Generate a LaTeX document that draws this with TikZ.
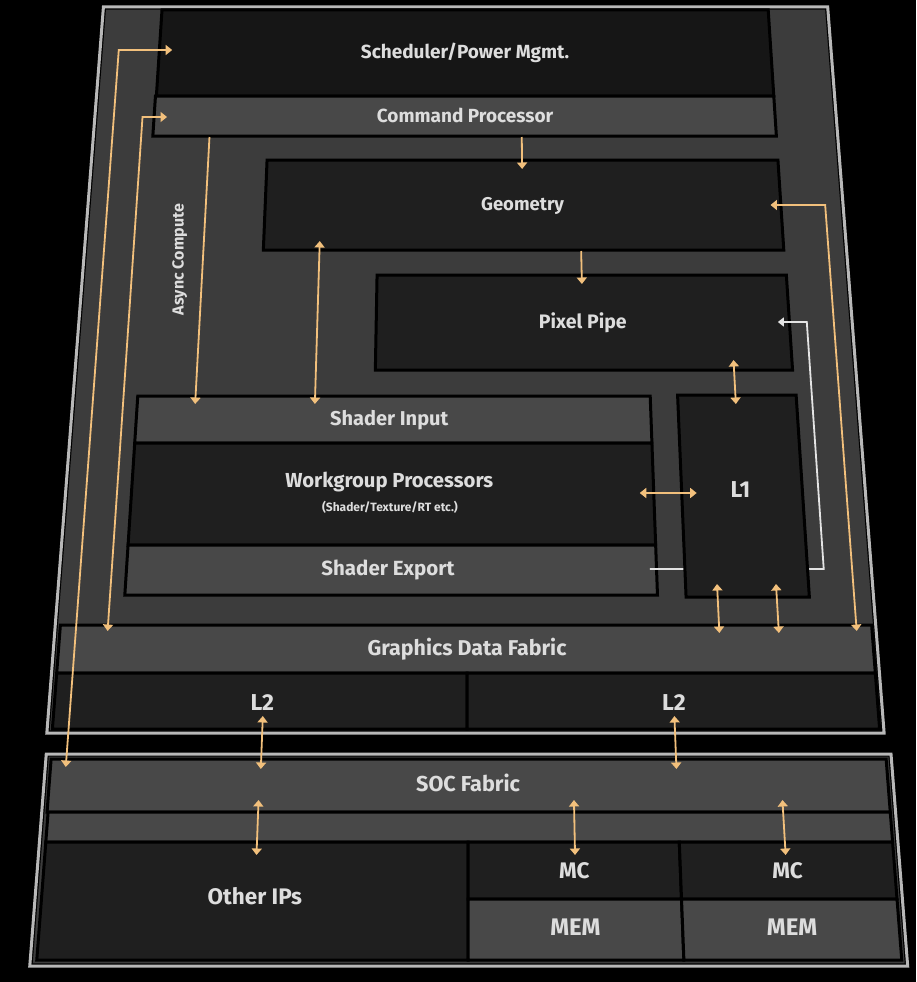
\documentclass[tikz,border=0pt]{standalone}
\usepackage{fontspec}
\setsansfont{Fira Sans}
\usetikzlibrary{arrows.meta}

\definecolor{framebg}{HTML}{3C3C3C}
\definecolor{frameline}{HTML}{B8B8B8}
\definecolor{boxdark}{HTML}{1F1F1F}
\definecolor{boxdeep}{HTML}{161616}
\definecolor{boxlight}{HTML}{484848}
\definecolor{txt}{HTML}{DDDDDD}
\definecolor{amber}{HTML}{F2C07C}
\definecolor{backpath}{HTML}{E4E4E4}

% layout coordinates are flat, the slide is tilted back
\makeatletter
\tikzdeclarecoordinatesystem{persp}{\persp@pt#1\relax}
\def\persp@pt#1,#2\relax{%
  \pgfmathsetmacro\persp@u{466+(#1-466)*((#2+4646)/5146)}%
  \pgfpointxy{\persp@u}{#2}}
\makeatother

% block: style, x1, y1, x2, y2
\newcommand\blk[5]{\filldraw[#1] (persp cs:#2,#3) -- (persp cs:#4,#3) -- (persp cs:#4,#5) -- (persp cs:#2,#5) -- cycle;}

\begin{document}
\begin{tikzpicture}[
  x=1pt, y=-1pt,
  frame/.style={fill=framebg, draw=black, line width=1.2pt, double=frameline, double distance=3pt, line join=miter},
  darkbox/.style={fill=boxdark, draw=black, line width=3pt, line join=miter},
  deepbox/.style={darkbox, fill=boxdeep},
  lightbox/.style={fill=boxlight, draw=black, line width=3pt, line join=miter},
  fs/.style={font=\sffamily\bfseries\fontsize{#1}{#1}\selectfont},
  lbl/.style={text=txt, inner sep=0pt, text height=0.69em, text depth=0pt, yshift=-3.5pt, fs=19},
  flow/.style={-{Triangle[width=10pt,length=6.5pt]}, line width=1.8pt, draw=amber},
  duplex/.style={{Triangle[width=10pt,length=6.5pt]}-{Triangle[width=10pt,length=6.5pt]}, line width=1.8pt, draw=amber},
  back/.style={-{Triangle[width=9pt,length=6pt]}, line width=1.8pt, draw=backpath},
]
\fill[black] (0,0) rectangle (916,982);
\useasboundingbox (0,0) rectangle (916,982);

% GPU frame
\filldraw[frame] (persp cs:65,7) -- (persp cs:866,7) -- (persp cs:866,733) -- (persp cs:65,733) -- cycle;
\blk{deepbox}{130}{10}{800}{96}
\blk{lightbox}{129}{96}{800}{136}
\blk{darkbox}{253}{160}{800}{250}
\blk{darkbox}{373}{275}{801}{370}
\blk{lightbox}{131}{396}{654}{443}
\blk{darkbox}{131}{443}{654}{545}
\blk{lightbox}{131}{545}{654}{595}
\blk{lightbox}{70}{625}{862}{673}
\blk{darkbox}{70}{673}{467}{729}
\blk{darkbox}{467}{673}{862}{729}

% SOC frame
\filldraw[frame] (persp cs:66,754) -- (persp cs:871,754) -- (persp cs:871,966) -- (persp cs:66,966) -- cycle;
\blk{lightbox}{71}{759}{866}{812}
\blk{lightbox}{72}{812}{866}{842}
\blk{darkbox}{72}{842}{468}{960}
\blk{darkbox}{468}{842}{666}{899}
\blk{lightbox}{468}{899}{666}{960}
\blk{darkbox}{666}{842}{866}{899}
\blk{lightbox}{666}{899}{866}{960}

% export path runs under L1
\coordinate (se-out) at (persp cs:647.5,569);
\coordinate (se-turn) at (persp cs:819,569);
\coordinate (pp-turn) at (persp cs:819,322);
\coordinate (pp-in) at (persp cs:789,322);
\draw[back] (se-out) -- (se-turn) -- (pp-turn) -- (pp-in);
\blk{darkbox}{682}{395}{803}{597}

% labels
\node[lbl] (sched) at (persp cs:465,52) {Scheduler/Power Mgmt.};
\node[lbl] (cp) at (persp cs:465,116) {Command Processor};
\node[lbl, fs=18.5] (geo) at (persp cs:526,204) {Geometry};
\node[lbl, fs=19.5] (pix) at (persp cs:587,322) {Pixel Pipe};
\node[lbl, fs=20] (si) at (persp cs:388,419) {Shader Input};
\node[lbl, fs=20.3] (wgp) at (persp cs:389,481) {Workgroup Processors};
\node[lbl, fs=12] (wgpsub) at (persp cs:390,505) {(Shader/Texture/RT etc.)};
\node[lbl, fs=20.5] (se) at (persp cs:389,569) {Shader Export};
\node[lbl, fs=23] (l1) at (persp cs:741,491) {L1};
\node[lbl, fs=21.4] (gdf) at (persp cs:467,649) {Graphics Data Fabric};
\node[lbl, fs=23] (l2a) at (persp cs:270,704) {L2};
\node[lbl, fs=23] (l2b) at (persp cs:666,704) {L2};
\node[lbl, fs=21.6] (soc) at (persp cs:468,785) {SOC Fabric};
\node[lbl, fs=22.5] (oip) at (persp cs:270,898) {Other IPs};
\node[lbl, fs=22.5] (mca) at (persp cs:567,872) {MC};
\node[lbl, fs=24] (mema) at (persp cs:567,929) {MEM};
\node[lbl, fs=22.5] (mcb) at (persp cs:766,872) {MC};
\node[lbl, fs=24] (memb) at (persp cs:767,929) {MEM};
\node[lbl, fs=16, rotate=90] (async) at (persp cs:166,256) {Async Compute};

% scheduler and command processor feeds
\coordinate (sch-in) at (persp cs:144,50);
\coordinate (sch-k) at (persp cs:85.5,50);
\coordinate (sch-soc) at (persp cs:85.5,767);
\draw[duplex] (sch-in) -- (sch-k) -- (sch-soc);
\coordinate (cp-in) at (persp cs:143,117);
\coordinate (cp-k) at (persp cs:116.5,117);
\coordinate (cp-gdf) at (persp cs:116.5,631);
\draw[duplex] (cp-in) -- (cp-k) -- (cp-gdf);
\coordinate (ac-top) at (persp cs:190,137);
\coordinate (ac-si) at (persp cs:190,404);
\draw[flow] (ac-top) -- (ac-si);

% graphics pipe
\coordinate (geo-bot) at (persp cs:312,241);
\coordinate (si-top) at (persp cs:312,404);
\draw[duplex] (geo-bot) -- (si-top);
\coordinate (cp-bot) at (persp cs:526,137);
\coordinate (geo-top) at (persp cs:526,169);
\draw[flow] (cp-bot) -- (geo-top);
\coordinate (geo-out) at (persp cs:587,251);
\coordinate (pix-top) at (persp cs:587,284);
\draw[flow] (geo-out) -- (pix-top);
\coordinate (geo-in) at (persp cs:789,205);
\coordinate (geo-k) at (persp cs:847,205);
\coordinate (geo-gdf) at (persp cs:847,631);
\draw[duplex] (geo-in) -- (geo-k) -- (geo-gdf);

% L1 links
\coordinate (pix-bot) at (persp cs:741,360);
\coordinate (l1-top) at (persp cs:741,404);
\draw[duplex] (pix-bot) -- (l1-top);
\coordinate (wgp-out) at (persp cs:640,493);
\coordinate (l1-in) at (persp cs:697,493);
\draw[duplex] (wgp-out) -- (l1-in);
\foreach \x [count=\i] in {713,771} {
  \coordinate (l1-b\i) at (persp cs:\x,584);
  \coordinate (gdf-t\i) at (persp cs:\x,633);
  \draw[duplex] (l1-b\i) -- (gdf-t\i);
}

% L2 to SOC fabric
\foreach \x [count=\i] in {271,666} {
  \coordinate (l2-b\i) at (persp cs:\x,716);
  \coordinate (soc-t\i) at (persp cs:\x,769);
  \draw[duplex] (l2-b\i) -- (soc-t\i);
}

% SOC fabric to IPs and memory controllers
\foreach \x [count=\i] in {270,568,765} {
  \coordinate (soc-b\i) at (persp cs:\x,800);
  \coordinate (ip-t\i) at (persp cs:\x,855);
  \draw[duplex] (soc-b\i) -- (ip-t\i);
}

\end{tikzpicture}
\end{document}
